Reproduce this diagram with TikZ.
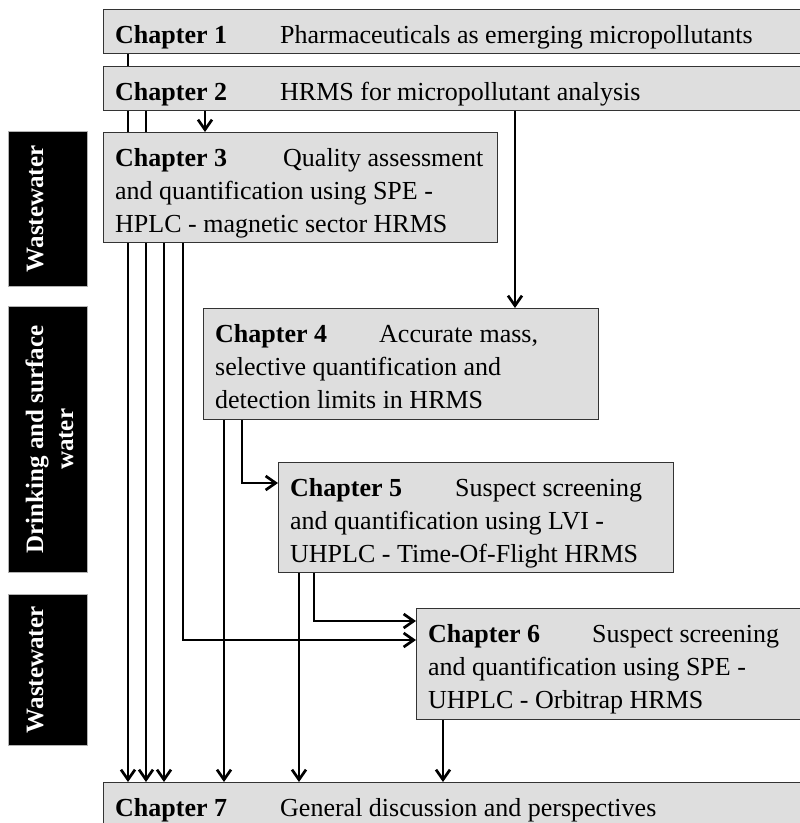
\documentclass[tikz,border=0pt]{standalone}
\usepackage{fontspec}
\setmainfont{Liberation Serif}
\usetikzlibrary{arrows.meta,backgrounds,calc}

\begin{document}
\begin{tikzpicture}[x=1pt,y=-1pt,
  chapbox/.style={draw=black!80, line width=1.2pt, fill=black!13, inner sep=0pt, anchor=north west},
  chaptext/.style={anchor=north west, inner sep=0pt, align=left, font=\fontsize{26}{33}\selectfont},
  sidebox/.style={fill=black, draw=black!30, line width=0.8pt, inner sep=0pt, anchor=north west, minimum width=79pt},
  sidetext/.style={rotate=90, anchor=north, inner sep=0pt, align=center, text=white, font=\bfseries\fontsize{25}{30}\selectfont},
  link/.style={line width=2.7pt, black},
  arr/.style={link, -{Straight Barb[length=10pt,width=14pt]}},
]
\useasboundingbox (0,0) rectangle (800,823);
\clip (0,0) rectangle (800,823);

% chapter boxes
\node[chapbox, minimum width=717pt, minimum height=44pt]  (c1) at (103,9)   {};
\node[chapbox, minimum width=717pt, minimum height=44pt]  (c2) at (103,66)  {};
\node[chapbox, minimum width=394pt, minimum height=110pt] (c3) at (103,132) {};
\node[chapbox, minimum width=395pt, minimum height=111pt] (c4) at (203,308) {};
\node[chapbox, minimum width=395pt, minimum height=110pt] (c5) at (278,462) {};
\node[chapbox, minimum width=404pt, minimum height=111pt] (c6) at (416,608) {};
\node[chapbox, minimum width=717pt, minimum height=60pt]  (c7) at (103,782) {};

% chapter titles
\node[chaptext] (t1) at ([shift={(12pt,-11pt)}]c1.north west)
  {\strut\makebox[165pt][l]{\textbf{Chapter 1}}Pharmaceuticals as emerging micropollutants};
\node[chaptext] (t2) at ([shift={(12pt,-11pt)}]c2.north west)
  {\strut\makebox[165pt][l]{\textbf{Chapter 2}}HRMS for micropollutant analysis};
\node[chaptext] (t3) at ([shift={(12pt,-11pt)}]c3.north west)
  {\strut\makebox[168pt][l]{\textbf{Chapter 3}}Quality assessment\\and quantification using SPE -\\HPLC - magnetic sector HRMS};
\node[chaptext] (t4) at ([shift={(12pt,-11pt)}]c4.north west)
  {\strut\makebox[164pt][l]{\textbf{Chapter 4}}Accurate mass,\\selective quantification and\\detection limits in HRMS};
\node[chaptext] (t5) at ([shift={(12pt,-11pt)}]c5.north west)
  {\strut\makebox[165pt][l]{\textbf{Chapter 5}}Suspect screening\\and quantification using LVI -\\UHPLC - Time-Of-Flight HRMS};
\node[chaptext] (t6) at ([shift={(12pt,-11pt)}]c6.north west)
  {\strut\makebox[164pt][l]{\textbf{Chapter 6}}Suspect screening\\and quantification using SPE -\\UHPLC - Orbitrap HRMS};
\node[chaptext] (t7) at ([shift={(12pt,-11pt)}]c7.north west)
  {\strut\makebox[165pt][l]{\textbf{Chapter 7}}General discussion and perspectives};

% matrix labels on the left
\node[sidebox, minimum height=155pt] (w1) at (8,131) {};
\node[sidebox, minimum height=266pt] (dw) at (8,306) {};
\node[sidebox, minimum height=151pt] (w2) at (8,594) {};
\node[sidetext] (w1t) at ([xshift=14pt]w1.west) {\strut Wastewater};
\node[sidetext] (dwt) at ([xshift=14pt]dw.west) {\strut Drinking and surface\\water};
\node[sidetext] (w2t) at ([xshift=14pt]w2.west) {\strut Wastewater};

% connectors, kept behind the boxes
\begin{pgfonlayer}{background}
\draw[arr] ([xshift=25pt]c1.south west) -- ([xshift=25pt]c1.south west |- c7.north);
\draw[arr] ([xshift=43pt]c2.south west) -- ([xshift=43pt]c2.south west |- c7.north);
\draw[arr] ([xshift=102pt]c2.south west) -- ([xshift=102pt]c2.south west |- c3.north);
\draw[arr] ([xshift=412pt]c2.south west) -- ([xshift=412pt]c2.south west |- c4.north);
\draw[arr] ([xshift=61pt]c3.south west) -- ([xshift=61pt]c3.south west |- c7.north);
\draw[arr] ([xshift=80pt]c3.south west) |- ([yshift=-32pt]c6.north west);
\draw[arr] ([xshift=21pt]c4.south west) -- ([xshift=21pt]c4.south west |- c7.north);
\draw[arr] ([xshift=39pt]c4.south west) |- ([yshift=-21pt]c5.north west);
\draw[arr] ([xshift=21pt]c5.south west) -- ([xshift=21pt]c5.south west |- c7.north);
\draw[arr] ([xshift=36pt]c5.south west) |- ([yshift=-13pt]c6.north west);
\draw[arr] ([xshift=27pt]c6.south west) -- ([xshift=27pt]c6.south west |- c7.north);
\end{pgfonlayer}
\end{tikzpicture}
\end{document}
